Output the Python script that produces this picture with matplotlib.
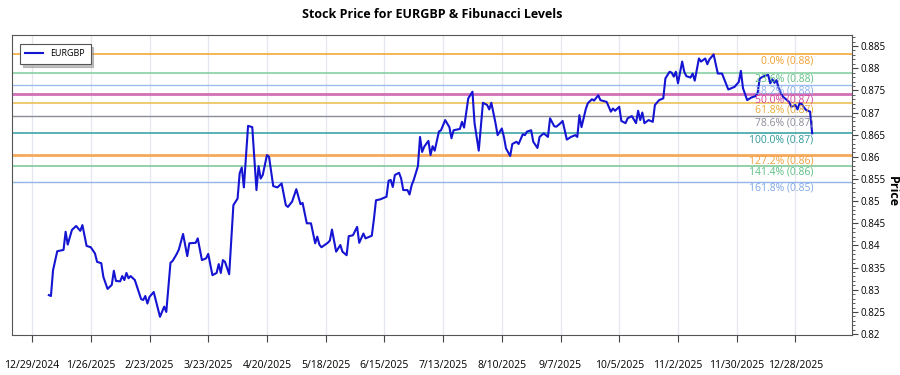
import pandas as pd
import matplotlib
matplotlib.use('Agg')
import matplotlib.pyplot as plt
from matplotlib.ticker import MultipleLocator, FuncFormatter

plt.rcParams['font.family'] = ['Open Sans', 'DejaVu Sans']

# EURGBP closes
dates = [
    "2025-01-06", "2025-01-07", "2025-01-08", "2025-01-10", "2025-01-13", "2025-01-14", "2025-01-15",
    "2025-01-17", "2025-01-19", "2025-01-21", "2025-01-22", "2025-01-24", "2025-01-26", "2025-01-28",
    "2025-01-29", "2025-01-31", "2025-02-01", "2025-02-03", "2025-02-05", "2025-02-06", "2025-02-07",
    "2025-02-09", "2025-02-10", "2025-02-11", "2025-02-12", "2025-02-13", "2025-02-14", "2025-02-16",
    "2025-02-19", "2025-02-20", "2025-02-21", "2025-02-22", "2025-02-23", "2025-02-25", "2025-02-28",
    "2025-03-02", "2025-03-03", "2025-03-05", "2025-03-06", "2025-03-08", "2025-03-09", "2025-03-11",
    "2025-03-13", "2025-03-14", "2025-03-17", "2025-03-18", "2025-03-20", "2025-03-22", "2025-03-23",
    "2025-03-25", "2025-03-27", "2025-03-28", "2025-03-29", "2025-03-30", "2025-03-31", "2025-04-02",
    "2025-04-04", "2025-04-06", "2025-04-07", "2025-04-08", "2025-04-09", "2025-04-11", "2025-04-13",
    "2025-04-15", "2025-04-16", "2025-04-17", "2025-04-18", "2025-04-20", "2025-04-21", "2025-04-23",
    "2025-04-25", "2025-04-27", "2025-04-29", "2025-04-30", "2025-05-02", "2025-05-04", "2025-05-06",
    "2025-05-07", "2025-05-09", "2025-05-11", "2025-05-13", "2025-05-14", "2025-05-15", "2025-05-16",
    "2025-05-19", "2025-05-20", "2025-05-21", "2025-05-23", "2025-05-25", "2025-05-26", "2025-05-28",
    "2025-05-29", "2025-05-31", "2025-06-02", "2025-06-03", "2025-06-05", "2025-06-06", "2025-06-09",
    "2025-06-10", "2025-06-11", "2025-06-13", "2025-06-16", "2025-06-17", "2025-06-18", "2025-06-19",
    "2025-06-20", "2025-06-22", "2025-06-23", "2025-06-24", "2025-06-26", "2025-06-27", "2025-06-28",
    "2025-06-29", "2025-07-01", "2025-07-02", "2025-07-03", "2025-07-04", "2025-07-06", "2025-07-07",
    "2025-07-08", "2025-07-09", "2025-07-11", "2025-07-12", "2025-07-14", "2025-07-16", "2025-07-17",
    "2025-07-18", "2025-07-21", "2025-07-22", "2025-07-23", "2025-07-25", "2025-07-27", "2025-07-28",
    "2025-07-30", "2025-08-01", "2025-08-03", "2025-08-04", "2025-08-05", "2025-08-07", "2025-08-08",
    "2025-08-10", "2025-08-11", "2025-08-12", "2025-08-14", "2025-08-15", "2025-08-17", "2025-08-18",
    "2025-08-20", "2025-08-21", "2025-08-22", "2025-08-24", "2025-08-25", "2025-08-27", "2025-08-28",
    "2025-08-30", "2025-09-01", "2025-09-02", "2025-09-04", "2025-09-05", "2025-09-07", "2025-09-08",
    "2025-09-10", "2025-09-12", "2025-09-14", "2025-09-15", "2025-09-16", "2025-09-17", "2025-09-19",
    "2025-09-20", "2025-09-22", "2025-09-23", "2025-09-25", "2025-09-26", "2025-09-29", "2025-10-01",
    "2025-10-02", "2025-10-03", "2025-10-05", "2025-10-06", "2025-10-08", "2025-10-09", "2025-10-11",
    "2025-10-13", "2025-10-14", "2025-10-15", "2025-10-16", "2025-10-17", "2025-10-19", "2025-10-21",
    "2025-10-22", "2025-10-24", "2025-10-26", "2025-10-27", "2025-10-29", "2025-10-30", "2025-10-31",
    "2025-11-01", "2025-11-02", "2025-11-04", "2025-11-05", "2025-11-06", "2025-11-08", "2025-11-09",
    "2025-11-10", "2025-11-12", "2025-11-13", "2025-11-15", "2025-11-16", "2025-11-17", "2025-11-19",
    "2025-11-21", "2025-11-23", "2025-11-26", "2025-11-29", "2025-12-01", "2025-12-02", "2025-12-03",
    "2025-12-05", "2025-12-07", "2025-12-09", "2025-12-10", "2025-12-11", "2025-12-13", "2025-12-15",
    "2025-12-16", "2025-12-17", "2025-12-18", "2025-12-19", "2025-12-20", "2025-12-21", "2025-12-22",
    "2025-12-24", "2025-12-25", "2025-12-26", "2025-12-28", "2025-12-29", "2025-12-30", "2025-12-31",
    "2026-01-02", "2026-01-04", "2026-01-05",
]
prices = [
    0.8288, 0.8286, 0.8344, 0.8387, 0.8390, 0.8431, 0.8402,
    0.8435, 0.8444, 0.8433, 0.8446, 0.8399, 0.8396, 0.8382,
    0.8363, 0.8360, 0.8329, 0.8302, 0.8311, 0.8343, 0.8320,
    0.8319, 0.8331, 0.8322, 0.8338, 0.8326, 0.8331, 0.8322,
    0.8279, 0.8277, 0.8286, 0.8269, 0.8284, 0.8295, 0.8239,
    0.8262, 0.8250, 0.8361, 0.8365, 0.8381, 0.8391, 0.8426,
    0.8376, 0.8405, 0.8406, 0.8416, 0.8367, 0.8371, 0.8381,
    0.8333, 0.8338, 0.8358, 0.8338, 0.8367, 0.8363, 0.8335,
    0.8491, 0.8506, 0.8563, 0.8576, 0.8531, 0.8670, 0.8667,
    0.8525, 0.8579, 0.8551, 0.8559, 0.8604, 0.8600, 0.8534,
    0.8531, 0.8540, 0.8491, 0.8487, 0.8499, 0.8527, 0.8493,
    0.8496, 0.8450, 0.8450, 0.8405, 0.8420, 0.8402, 0.8396,
    0.8406, 0.8411, 0.8436, 0.8386, 0.8401, 0.8386, 0.8378,
    0.8421, 0.8423, 0.8442, 0.8406, 0.8427, 0.8416, 0.8422,
    0.8459, 0.8502, 0.8504, 0.8510, 0.8546, 0.8548, 0.8532,
    0.8559, 0.8564, 0.8551, 0.8525, 0.8525, 0.8515, 0.8536,
    0.8548, 0.8579, 0.8645, 0.8611, 0.8623, 0.8636, 0.8604,
    0.8624, 0.8614, 0.8657, 0.8660, 0.8683, 0.8667, 0.8642,
    0.8660, 0.8663, 0.8679, 0.8666, 0.8732, 0.8747, 0.8676,
    0.8614, 0.8722, 0.8717, 0.8707, 0.8722, 0.8676, 0.8649,
    0.8664, 0.8645, 0.8619, 0.8602, 0.8629, 0.8634, 0.8629,
    0.8651, 0.8649, 0.8657, 0.8660, 0.8634, 0.8620, 0.8645,
    0.8653, 0.8645, 0.8687, 0.8669, 0.8668, 0.8676, 0.8681,
    0.8639, 0.8645, 0.8649, 0.8645, 0.8694, 0.8667, 0.8707,
    0.8721, 0.8730, 0.8727, 0.8739, 0.8728, 0.8724, 0.8702,
    0.8709, 0.8704, 0.8713, 0.8681, 0.8676, 0.8687, 0.8692,
    0.8676, 0.8704, 0.8683, 0.8700, 0.8676, 0.8683, 0.8679,
    0.8717, 0.8728, 0.8732, 0.8777, 0.8792, 0.8790, 0.8781,
    0.8792, 0.8766, 0.8815, 0.8792, 0.8782, 0.8779, 0.8788,
    0.8772, 0.8822, 0.8815, 0.8822, 0.8809, 0.8820, 0.8831,
    0.8788, 0.8788, 0.8752, 0.8758, 0.8769, 0.8794, 0.8755,
    0.8728, 0.8734, 0.8737, 0.8745, 0.8777, 0.8782, 0.8785,
    0.8766, 0.8775, 0.8767, 0.8773, 0.8755, 0.8745, 0.8736,
    0.8728, 0.8724, 0.8713, 0.8717, 0.8707, 0.8721, 0.8719,
    0.8706, 0.8702, 0.8653,
]

fib_ratios = [0.0, 0.236, 0.382, 0.5, 0.618, 0.786, 1.0, 1.272, 1.414, 1.618]
fib_colors = ['#f2a93b', '#86cfa3', '#9dbdf0', '#d36fb6', '#edc15a',
              '#8c8c99', '#3ea5a5', '#f5a95a', '#7fc99a', '#93b4ea']
fib_text_colors = ['#f0a030', '#5fbf84', '#8aaee8', '#d2449c', '#e8aa38',
                   '#8c8c99', '#2e9a9a', '#f0a040', '#5fbf84', '#7fa6e6']
fib_widths = [1.2, 1.2, 1.0, 2.0, 1.2, 1.0, 1.2, 2.0, 1.2, 1.0]

data = pd.DataFrame({'Date': pd.to_datetime(dates), 'Close': prices})

fig = plt.figure(figsize=(9, 3.75), dpi=100)
ax = fig.add_axes([0.0133, 0.1067, 0.9334, 0.80])

ax.plot(data['Date'], data['Close'], color='#1414d2', linewidth=1.5, label='EURGBP', zorder=5)

# fibonacci levels from the high down to the last close
high = data['Close'].max()
low = data['Close'].iloc[-1]
last_date = data['Date'].iloc[-1] + pd.Timedelta(hours=12)
for r, c, tc, lw in zip(fib_ratios, fib_colors, fib_text_colors, fib_widths):
    level = high - (high - low) * r
    ax.axhline(level, color=c, linewidth=lw, zorder=2)
    ax.text(last_date, level - 0.0002, f"{r * 100:.1f}% ({level:.2f})", color=tc,
            fontsize=7.5, ha='right', va='top', zorder=6)

ax.set_xlim(pd.Timestamp('2024-12-19 10:00'), pd.Timestamp('2026-01-24'))
ax.set_ylim(0.8198, 0.8875)

xticks = pd.date_range('2024-12-29', '2025-12-28', freq='28D')
ax.set_xticks(xticks)
ax.set_xticklabels([f"{d.month}/{d.day}/{d.year}" for d in xticks])
ax.tick_params(axis='x', length=5, pad=13, labelsize=7.5, color='#444444')
ax.grid(axis='x', color='#e3e7ee', linewidth=0.9)

ax.yaxis.tick_right()
ax.yaxis.set_major_locator(MultipleLocator(0.005))
ax.yaxis.set_minor_locator(MultipleLocator(0.001))
ax.yaxis.set_major_formatter(FuncFormatter(lambda v, p: f"{v:g}"))
ax.tick_params(axis='y', which='major', length=4, pad=2, labelsize=7, color='#444444')
ax.tick_params(axis='y', which='minor', length=2, color='#444444')
fig.text(0.9915, 0.49, 'Price', fontsize=9, fontweight='bold', rotation=-90,
         ha='center', va='center')

for s in ax.spines.values():
    s.set_color('#555555')

ax.set_title('Stock Price for EURGBP & Fibunacci Levels', fontsize=9, fontweight='bold', pad=12)

leg = ax.legend(loc='upper left', fontsize=6.5, frameon=True, fancybox=False,
                shadow={'color': '#999999', 'alpha': 0.6, 'ox': 2, 'oy': -2},
                borderpad=0.6, handlelength=2.0, bbox_to_anchor=(0.004, 0.985))
leg.get_frame().set_edgecolor('#555555')
leg.get_frame().set_linewidth(0.8)

fig.savefig('out.png', dpi=100)
